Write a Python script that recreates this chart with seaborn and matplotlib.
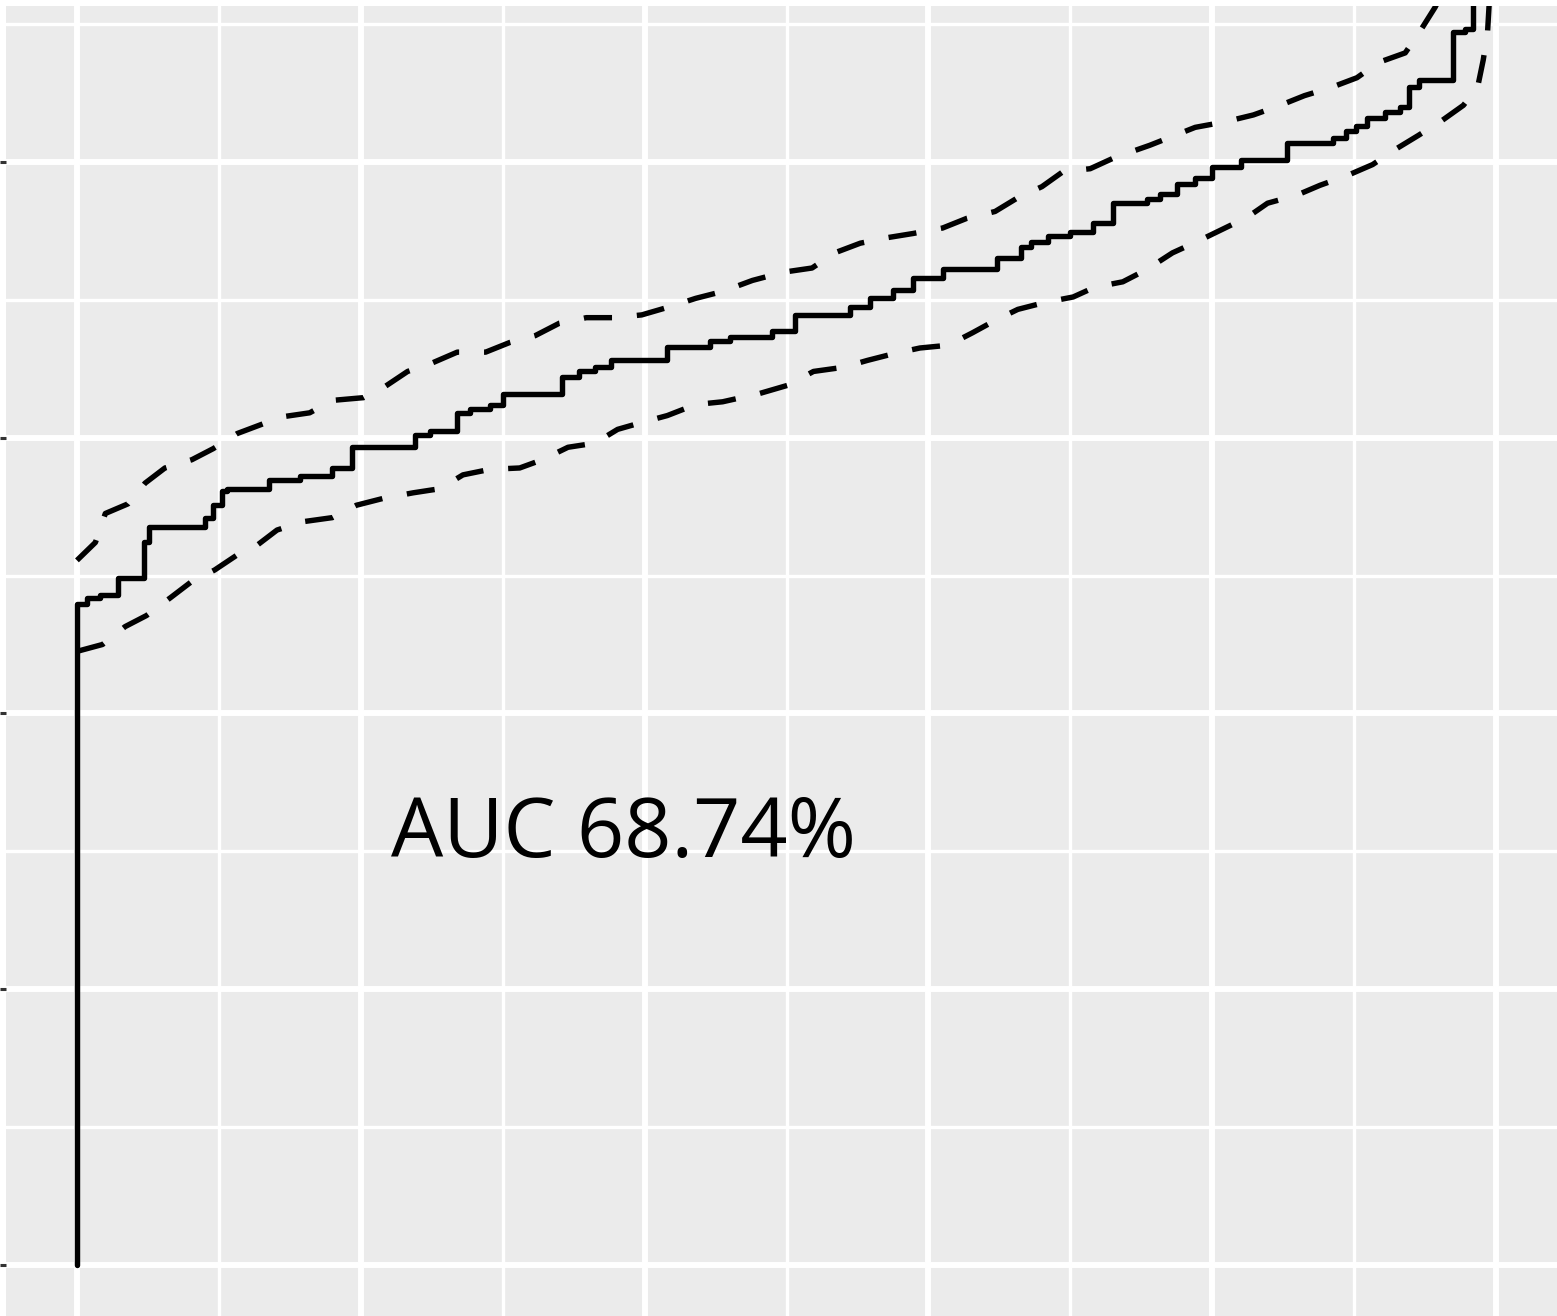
import numpy as np
import pandas as pd
import seaborn as sns
import matplotlib.pyplot as plt

# ROC curve (1 - specificity vs sensitivity)
fpr = [0.000, 0.000, 0.007, 0.007, 0.016, 0.016, 0.029, 0.029, 0.047, 0.047,
       0.051, 0.051, 0.090, 0.090, 0.096, 0.096, 0.102, 0.102, 0.106, 0.106,
       0.135, 0.135, 0.157, 0.157, 0.180, 0.180, 0.194, 0.194, 0.238, 0.238,
       0.249, 0.249, 0.268, 0.268, 0.277, 0.277, 0.291, 0.291, 0.300, 0.300,
       0.342, 0.342, 0.354, 0.354, 0.365, 0.365, 0.376, 0.376, 0.416, 0.416,
       0.446, 0.446, 0.460, 0.460, 0.490, 0.490, 0.506, 0.506, 0.545, 0.545,
       0.559, 0.559, 0.575, 0.575, 0.589, 0.589, 0.610, 0.610, 0.648, 0.648,
       0.665, 0.665, 0.672, 0.672, 0.684, 0.684, 0.700, 0.700, 0.716, 0.716,
       0.730, 0.730, 0.754, 0.754, 0.763, 0.763, 0.775, 0.775, 0.788, 0.788,
       0.800, 0.800, 0.820, 0.820, 0.853, 0.853, 0.885, 0.885, 0.894, 0.894,
       0.901, 0.901, 0.909, 0.909, 0.922, 0.922, 0.932, 0.932, 0.939, 0.939,
       0.946, 0.946, 0.970, 0.970, 0.978, 0.978, 0.984, 0.984, 1.000]
tpr = [0.000, 0.479, 0.479, 0.484, 0.484, 0.486, 0.486, 0.498, 0.498, 0.524,
       0.524, 0.535, 0.535, 0.542, 0.542, 0.551, 0.551, 0.561, 0.561, 0.563,
       0.563, 0.569, 0.569, 0.572, 0.572, 0.578, 0.578, 0.593, 0.593, 0.602,
       0.602, 0.605, 0.605, 0.618, 0.618, 0.621, 0.621, 0.624, 0.624, 0.632,
       0.632, 0.644, 0.644, 0.648, 0.648, 0.651, 0.651, 0.656, 0.656, 0.666,
       0.666, 0.670, 0.670, 0.673, 0.673, 0.677, 0.677, 0.689, 0.689, 0.695,
       0.695, 0.701, 0.701, 0.707, 0.707, 0.716, 0.716, 0.722, 0.722, 0.730,
       0.730, 0.738, 0.738, 0.742, 0.742, 0.746, 0.746, 0.749, 0.749, 0.756,
       0.756, 0.770, 0.770, 0.773, 0.773, 0.777, 0.777, 0.784, 0.784, 0.788,
       0.788, 0.796, 0.796, 0.801, 0.801, 0.814, 0.814, 0.817, 0.817, 0.822,
       0.822, 0.826, 0.826, 0.832, 0.832, 0.836, 0.836, 0.840, 0.840, 0.854,
       0.854, 0.859, 0.859, 0.894, 0.894, 0.896, 0.896, 1.000, 1.000]

# confidence band, upper
fpr_hi = [0.000, 0.013, 0.020, 0.036, 0.048, 0.062, 0.081, 0.096, 0.113, 0.144,
          0.164, 0.180, 0.202, 0.217, 0.233, 0.250, 0.268, 0.288, 0.305, 0.323,
          0.340, 0.359, 0.379, 0.398, 0.418, 0.436, 0.455, 0.476, 0.498, 0.518,
          0.534, 0.552, 0.571, 0.589, 0.610, 0.627, 0.647, 0.663, 0.680, 0.695,
          0.714, 0.731, 0.756, 0.788, 0.809, 0.829, 0.848, 0.865, 0.884, 0.902,
          0.917, 0.936, 0.946, 0.957, 1.000]
tpr_hi = [0.511, 0.524, 0.545, 0.552, 0.567, 0.578, 0.584, 0.592, 0.603, 0.615,
          0.618, 0.627, 0.629, 0.637, 0.648, 0.654, 0.662, 0.662, 0.669, 0.674,
          0.683, 0.687, 0.687, 0.689, 0.695, 0.701, 0.706, 0.714, 0.720, 0.723,
          0.734, 0.741, 0.745, 0.748, 0.752, 0.759, 0.764, 0.774, 0.782, 0.793,
          0.795, 0.803, 0.812, 0.825, 0.829, 0.834, 0.841, 0.848, 0.854, 0.861,
          0.872, 0.879, 0.894, 0.912, 1.000]

# confidence band, lower
fpr_lo = [0.000, 0.018, 0.034, 0.049, 0.066, 0.080, 0.097, 0.113, 0.127, 0.141,
          0.159, 0.180, 0.197, 0.216, 0.237, 0.256, 0.272, 0.291, 0.312, 0.328,
          0.346, 0.365, 0.381, 0.398, 0.416, 0.436, 0.455, 0.481, 0.501, 0.519,
          0.540, 0.557, 0.576, 0.594, 0.614, 0.631, 0.647, 0.663, 0.682, 0.702,
          0.717, 0.737, 0.754, 0.772, 0.789, 0.807, 0.825, 0.839, 0.860, 0.876,
          0.895, 0.913, 0.929, 0.945, 0.962, 0.977, 0.987, 0.991, 0.994, 1.000]
tpr_lo = [0.445, 0.450, 0.463, 0.471, 0.484, 0.495, 0.504, 0.515, 0.522, 0.533,
          0.539, 0.542, 0.551, 0.556, 0.560, 0.563, 0.573, 0.577, 0.578, 0.584,
          0.593, 0.596, 0.606, 0.611, 0.616, 0.624, 0.626, 0.632, 0.638, 0.648,
          0.651, 0.656, 0.661, 0.665, 0.667, 0.676, 0.685, 0.693, 0.698, 0.702,
          0.709, 0.713, 0.722, 0.734, 0.742, 0.751, 0.760, 0.770, 0.776, 0.783,
          0.790, 0.798, 0.809, 0.819, 0.830, 0.841, 0.854, 0.874, 0.894, 1.000]

auc_label = "AUC 68.74%"

roc = pd.DataFrame({"fpr": fpr, "tpr": tpr})
hi = pd.DataFrame({"fpr": fpr_hi, "tpr": tpr_hi})
lo = pd.DataFrame({"fpr": fpr_lo, "tpr": tpr_lo})

sns.set_theme(style="darkgrid", rc={
    "axes.facecolor": "#EBEBEB",
    "grid.color": "white",
    "xtick.color": "#333333",
    "ytick.color": "#333333",
})
plt.rcParams["font.family"] = ["Open Sans", "DejaVu Sans"]

W, H = 1557, 1316
fig = plt.figure(figsize=(W / 100, H / 100), dpi=100)
# panel is cropped: only its left and top edges fall inside the image
ax = fig.add_axes([6.0 / W, (H - 1334) / H, 1561.0 / W, 1328.0 / H])

dash = (0, (5.2, 4.6))
sns.lineplot(data=hi, x="fpr", y="tpr", sort=False, estimator=None,
             color="black", linewidth=3.9, linestyle=dash, ax=ax)
sns.lineplot(data=lo, x="fpr", y="tpr", sort=False, estimator=None,
             color="black", linewidth=3.9, linestyle=dash, ax=ax)
sns.lineplot(data=roc, x="fpr", y="tpr", sort=False, estimator=None,
             color="black", linewidth=3.9, ax=ax)

ax.text(0.385, 0.296, auc_label, ha="center", va="baseline",
        fontsize=59.5, color="black")

ax.set_xticks(np.arange(0, 1.01, 0.2))
ax.set_yticks(np.arange(0, 1.01, 0.2))
ax.set_xticks(np.arange(0.1, 1.0, 0.2), minor=True)
ax.set_yticks(np.arange(0.1, 1.0, 0.2), minor=True)
# limits after the ticks, otherwise set_ticks widens the view
ax.set_xlim(-0.05, 1.05)
ax.set_ylim(-0.05, 0.913)
ax.grid(which="major", color="white", linewidth=4.3)
ax.grid(which="minor", color="white", linewidth=2.4)
# tick labels fall outside the cropped image, only the left tick marks show
ax.tick_params(axis="y", which="major", left=True, length=4.5, width=2.2,
               labelleft=False)
ax.tick_params(axis="x", labelbottom=False)
ax.tick_params(which="minor", length=0)
for s in ax.spines.values():
    s.set_visible(False)
ax.set_xlabel("")
ax.set_ylabel("")

fig.savefig("out.png", dpi=100)
